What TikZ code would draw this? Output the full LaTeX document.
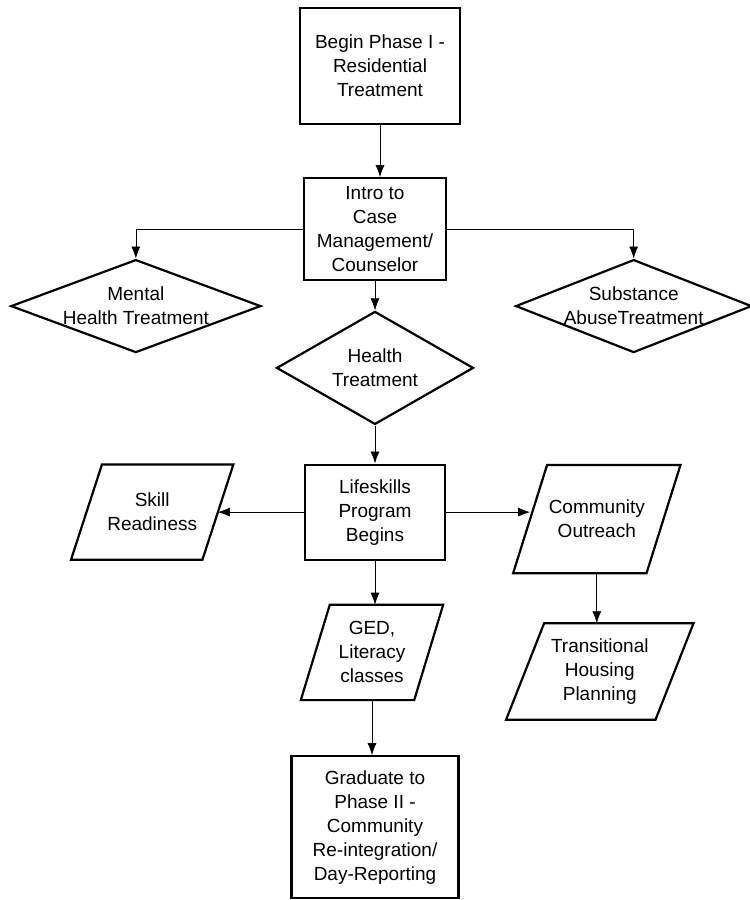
\documentclass[tikz,border=0pt]{standalone}
\usepackage{fontspec}
\setmainfont{Liberation Sans}
\usepackage{tikz}
\usetikzlibrary{shapes.geometric,arrows.meta,positioning}
\tikzstyle{stepbox} = [rectangle, draw=black, line width=2.2pt, text=black, align=center, inner sep=2pt, font=\fontsize{19}{24}\selectfont]
\tikzstyle{choice} = [diamond, draw=black, line width=2.2pt, text=black, align=center, inner sep=0pt, font=\fontsize{19}{24}\selectfont]
\tikzstyle{tedge}  = [draw, line width=0.7pt, -{Latex[length=12pt,width=9pt]}]
% parallelogram: #1 = horizontal offset of bottom edge against top edge
\tikzset{iobox/.style={rectangle, text=black, align=center, inner sep=2pt, font=\fontsize{19}{24}\selectfont,
  append after command={\pgfextra{\draw[line width=2.2pt]
    ([xshift=#1/2]\tikzlastnode.north west) -- ([xshift=#1/2]\tikzlastnode.north east) --
    ([xshift=-#1/2]\tikzlastnode.south east) -- ([xshift=-#1/2]\tikzlastnode.south west) -- cycle;}}}}

\begin{document}
\begin{tikzpicture}[auto]
\useasboundingbox (0,0) rectangle (750pt,-900pt);

% main column =============================

% phase I
\node[stepbox, minimum width=160pt, minimum height=116pt] (begin) at (380pt,-66pt) {Begin Phase I -\\Residential\\Treatment};
\node[stepbox, minimum width=142pt, minimum height=102pt, below=52pt of begin, xshift=-5pt] (intro) {Intro to\\Case\\Management/\\Counselor};

% treatments
\node[choice, aspect=1.74, minimum width=197pt, minimum height=113pt, below=29pt of intro] (health) {Health\\Treatment};
\node[choice, aspect=2.69, minimum width=250pt, minimum height=93pt, below left=1pt and 104pt of intro] (mental) {Mental\\Health Treatment};
\node[choice, aspect=2.54, minimum width=236pt, minimum height=93pt, below right=1pt and 127pt of intro] (subst) {Substance\\AbuseTreatment};

% lifeskills
\node[stepbox, minimum width=140pt, minimum height=95pt, below=38pt of health] (life) {Lifeskills\\Program\\Begins};
\node[iobox=31pt, minimum width=131pt, minimum height=95pt, left=86pt of life] (skill) {Skill\\Readiness};
\node[iobox=34pt, minimum width=133pt, minimum height=108pt, right=84pt of life, yshift=-7pt] (comm) {Community\\Outreach};
\node[iobox=38pt, minimum width=149pt, minimum height=96pt, below=50pt of comm, xshift=3pt] (trans) {Transitional\\Housing\\Planning};
\node[iobox=29pt, minimum width=113pt, minimum height=95pt, below=44pt of life, xshift=-3pt] (ged) {GED,\\Literacy\\classes};

% phase II
\node[stepbox, minimum width=167pt, minimum height=142pt, below=55pt of ged, xshift=3pt] (grad) {Graduate to\\Phase II -\\Community\\Re-integration/\\Day-Reporting};

%edges
\path[tedge] (begin.south) -- (begin.south |- intro.north);
\path[tedge] (intro.west) -| (mental.north);
\path[tedge] (intro.east) -| (subst.north);
\path[tedge] (intro) -- (health);
\path[tedge] (health) -- (life);

\path[tedge] (life) -- (skill);
\path[tedge] (life.east) -- (life.east -| comm.west);
\path[tedge] (comm.south) -- (comm.south |- trans.north);
\path[tedge] (life.south) -- (life.south |- ged.north);
\path[tedge] (ged.south) -- (ged.south |- grad.north);

\end{tikzpicture}
\end{document}
